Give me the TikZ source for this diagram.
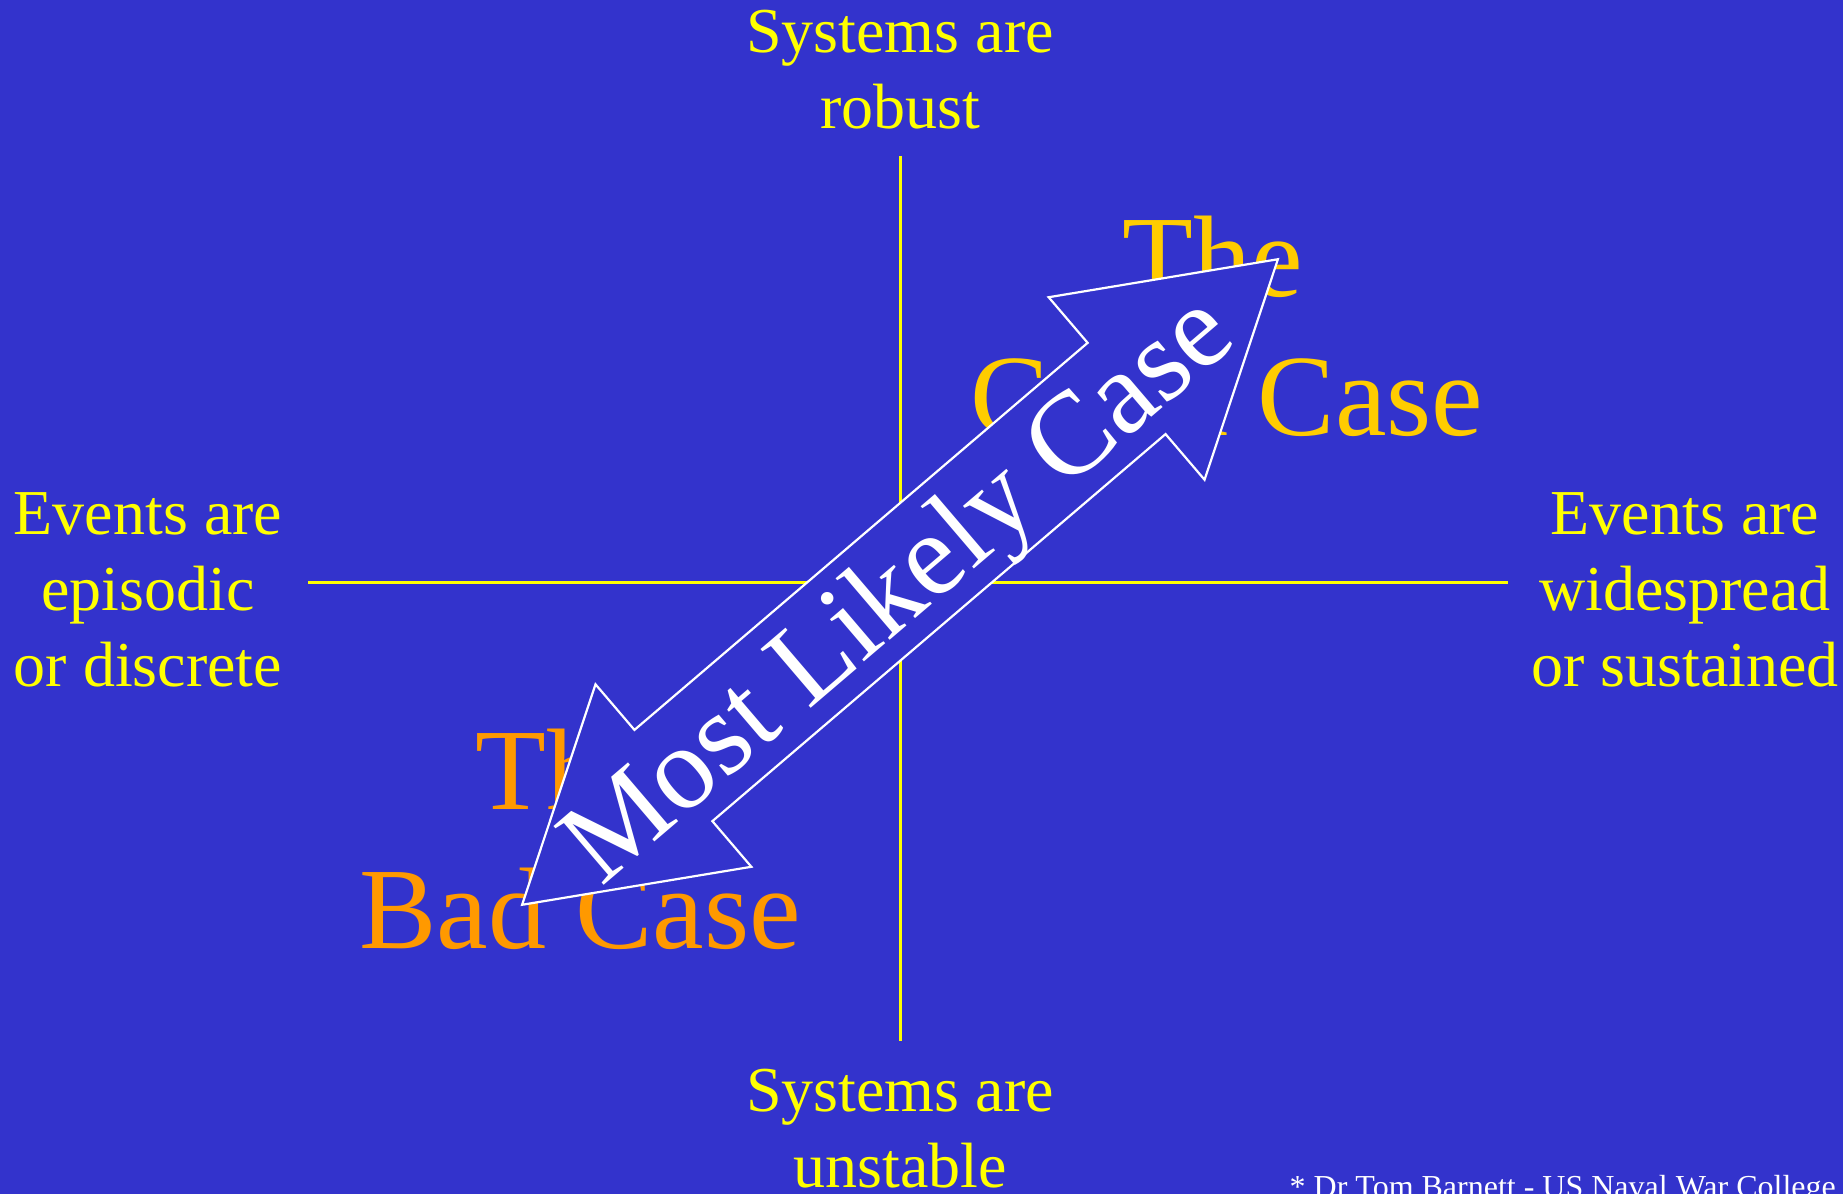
\documentclass[tikz,border=0pt]{standalone}
\usepackage{fontspec}
\setmainfont{Liberation Serif}
\definecolor{slideblue}{RGB}{51, 51, 204}
\definecolor{axisyellow}{RGB}{255, 255, 0}
\definecolor{goodgold}{RGB}{255, 204, 0}
\definecolor{badorange}{RGB}{255, 153, 0}

\begin{document}
\begin{tikzpicture}[x=1pt, y=-1pt,
    axislabel/.style={text=axisyellow, align=center, anchor=north, inner sep=0pt, font=\fontsize{64}{76}\selectfont},
    caselabel/.style={align=center, anchor=north, inner sep=0pt, font=\fontsize{116}{139}\selectfont}]
    \useasboundingbox (0, 0) rectangle (1843, 1194);
    \fill[slideblue] (0, 0) rectangle (1843, 1194);

    \coordinate (origin) at (900, 582);
    \coordinate (axtop) at (900, 156);
    \coordinate (axbottom) at (900, 1041);
    \coordinate (axleft) at (308, 582);
    \coordinate (axright) at (1508, 582);
    \draw[axisyellow, line width=3pt] (axtop) -- (axbottom);
    \draw[axisyellow, line width=3pt] (axleft) -- (axright);

    \node[axislabel] (robust) at (900, 10) {Systems are\\robust};
    \node[axislabel] (unstable) at (900, 1069) {Systems are\\unstable};
    \node[axislabel] (episodic) at (148, 492) {Events are\\episodic\\or discrete};
    \node[axislabel] (sustained) at (1685, 492) {Events are\\widespread\\or sustained};

    \node[caselabel, text=goodgold] (goodcase) at (1227, 216) {The\hphantom{\ }\\Good Case};
    \node[caselabel, text=badorange] (badcase) at (580, 729) {The\hphantom{\ }\\Bad Case};

    \begin{scope}[shift={(origin)}, rotate=40.5]
        \filldraw[fill=slideblue, draw=white, line width=2.2pt]
            (-497, 0) -- (-298, -120) -- (-298, -60) -- (298, -60) -- (298, -120)
            -- (497, 0) -- (298, 120) -- (298, 60) -- (-298, 60) -- (-298, 120) -- cycle;
        \node[text=white, anchor=base, inner sep=0pt, transform shape, font=\fontsize{118}{140}\selectfont] (likely) at (-6, 38) {Most Likely Case};
    \end{scope}

    \node[text=white, anchor=base east, inner sep=0pt, font=\fontsize{32}{38}\selectfont] (credit) at (1836, 1197) {* Dr Tom Barnett - US Naval War College};
\end{tikzpicture}
\end{document}
